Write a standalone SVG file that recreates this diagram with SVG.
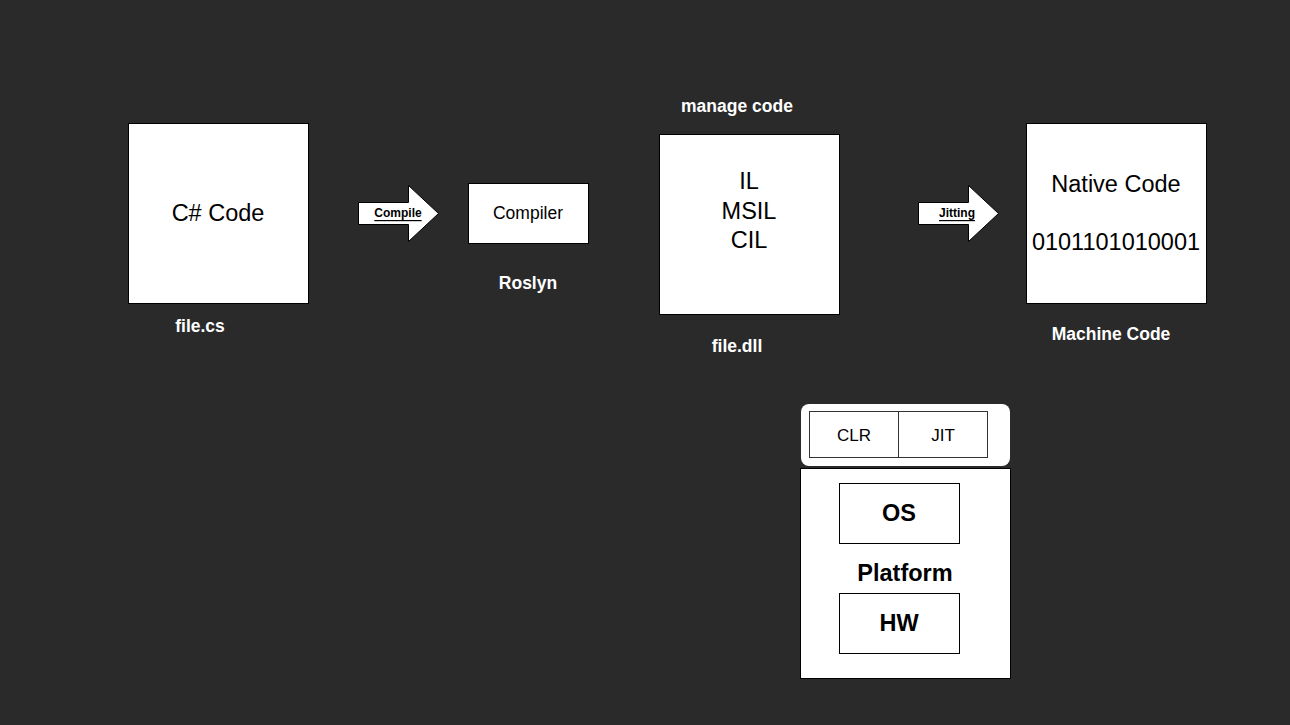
<svg xmlns="http://www.w3.org/2000/svg" width="1290" height="725" viewBox="0 0 1290 725">
<style>
.box{fill:#fff;stroke:#000;stroke-width:1}
.t{font-family:"Liberation Sans",Arial,sans-serif;fill:#000;text-anchor:middle;dominant-baseline:central}
.lbl{font-family:"Liberation Sans",Arial,sans-serif;fill:#fff;font-weight:bold;font-size:17.5px;text-anchor:middle;dominant-baseline:central}
.arrow{fill:#fff;stroke:#000;stroke-width:1}
.al{font-family:"Liberation Sans",Arial,sans-serif;font-size:12px;font-weight:bold;text-decoration:underline;fill:#000;text-anchor:middle;dominant-baseline:central}
</style>
<rect width="1290" height="725" fill="#2a2a2a"/>
<g id="csharp">
<rect class="box" x="128.5" y="123.5" width="180" height="180"/>
<text class="t" x="218" y="213" font-size="23.5">C# Code</text>
<text class="lbl" x="200" y="326">file.cs</text>
</g>
<g id="compiler">
<rect class="box" x="468.5" y="183.5" width="120" height="60"/>
<text class="t" x="528" y="213" font-size="17.5">Compiler</text>
<text class="lbl" x="528" y="283">Roslyn</text>
</g>
<g id="il">
<text class="lbl" x="737" y="106">manage code</text>
<rect class="box" x="659.5" y="134.5" width="180" height="180"/>
<text class="t" x="749" y="181" font-size="23.5">IL</text>
<text class="t" x="749" y="211" font-size="23.5">MSIL</text>
<text class="t" x="749" y="240" font-size="23.5">CIL</text>
<text class="lbl" x="737" y="346">file.dll</text>
</g>
<g id="native">
<rect class="box" x="1026.5" y="123.5" width="180" height="180"/>
<text class="t" x="1116" y="184" font-size="23.5">Native Code</text>
<text class="t" x="1116" y="242" font-size="23.5">0101101010001</text>
<text class="lbl" x="1111" y="334">Machine Code</text>
</g>
<g id="runtime">
<rect x="801" y="404" width="209" height="62" rx="8" fill="#fff"/>
<rect x="809.5" y="411.5" width="89" height="46" fill="#fff" stroke="#333"/>
<rect x="898.5" y="411.5" width="89" height="46" fill="#fff" stroke="#333"/>
<text class="t" x="854" y="435" font-size="17">CLR</text>
<text class="t" x="943" y="435" font-size="17">JIT</text>
</g>
<g id="platform">
<rect class="box" x="800.5" y="468.5" width="210" height="210"/>
<rect class="box" x="839.5" y="483.5" width="120" height="60"/>
<text class="t" x="899" y="513" font-size="23.5" font-weight="bold">OS</text>
<text class="t" x="905" y="573" font-size="23.5" font-weight="bold">Platform</text>
<rect class="box" x="839.5" y="593.5" width="120" height="60"/>
<text class="t" x="899" y="623" font-size="23.5" font-weight="bold">HW</text>
</g>
<g id="connectors">
<g id="compile-arrow">
<polygon class="arrow" points="358.5,202.5 408.5,202.5 408.5,185.5 438.5,213.5 408.5,241.5 408.5,224.5 358.5,224.5"/>
<text class="al" x="398" y="213">Compile</text>
</g>
<g id="jitting-arrow">
<polygon class="arrow" points="918.5,202.5 968.5,202.5 968.5,185.5 998.5,213.5 968.5,241.5 968.5,224.5 918.5,224.5"/>
<text class="al" x="957" y="213">Jitting</text>
</g>
</g>
</svg>
